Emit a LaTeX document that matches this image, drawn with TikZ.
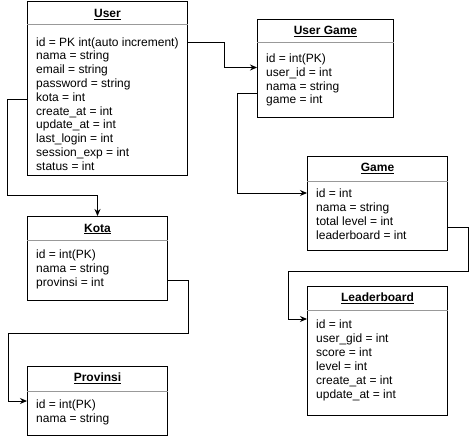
\documentclass[tikz,border=0pt]{standalone}
\usepackage{fontspec}
\setmainfont{Liberation Sans}
\usetikzlibrary{calc,arrows.meta}
\begin{document}
\begin{tikzpicture}[x=1pt,y=-1pt,
  box/.style={draw=black,line width=1pt,fill=white,anchor=north west,inner sep=0pt},
  ttl/.style={font=\fontsize{12}{14}\selectfont\bfseries,anchor=base,inner sep=0pt},
  fld/.style={font=\fontsize{12}{14}\selectfont,anchor=base west,inner sep=0pt},
  sepline/.style={draw={rgb,255:red,153;green,153;blue,153},line width=1pt},
  link/.style={draw=black,line width=1pt,-{Stealth[length=7pt,width=6pt]}}]
\fill[white] (0,0) rectangle (476,436);
\useasboundingbox (0,0) rectangle (476,436);

% User
\node[box,minimum width=160,minimum height=174] (user) at (27,1) {};
\node[ttl] (userT) at ($(user.north)+(0,16.5)$) {\underline{User}};
\draw[sepline] ($(user.north west)+(0,24)$) -- ($(user.north east)+(0,24)$);
\foreach \t [count=\i from 0] in {id = PK int(auto increment),nama = string,email = string,password = string,kota = int,create\_at = int,update\_at = int,last\_login = int,session\_exp = int,status = int}
  \node[fld] (user-\i) at ($(user.north west)+(9,45+\i*13.8)$) {\t};

% User Game
\node[box,minimum width=136,minimum height=98] (ug) at (257,19) {};
\node[ttl] (ugT) at ($(ug.north)+(0,15.5)$) {\underline{User Game}};
\draw[sepline] ($(ug.north west)+(0,24)$) -- ($(ug.north east)+(0,24)$);
\foreach \t [count=\i from 0] in {id = int(PK),user\_id = int,nama = string,game = int}
  \node[fld] (ug-\i) at ($(ug.north west)+(9,43.5+\i*13.8)$) {\t};

% Game
\node[box,minimum width=140,minimum height=94] (game) at (307,156) {};
\node[ttl] (gameT) at ($(game.north)+(0,15.5)$) {\underline{Game}};
\draw[sepline] ($(game.north west)+(0,25)$) -- ($(game.north east)+(0,25)$);
\foreach \t [count=\i from 0] in {id = int,nama = string,total level = int,leaderboard = int}
  \node[fld] (game-\i) at ($(game.north west)+(9,41.5+\i*14)$) {\t};

% Kota
\node[box,minimum width=140,minimum height=84] (kota) at (27,216) {};
\node[ttl] (kotaT) at ($(kota.north)+(0,16)$) {\underline{Kota}};
\draw[sepline] ($(kota.north west)+(0,24.5)$) -- ($(kota.north east)+(0,24.5)$);
\foreach \t [count=\i from 0] in {id = int(PK),nama = string,provinsi = int}
  \node[fld] (kota-\i) at ($(kota.north west)+(9,42.5+\i*13.8)$) {\t};

% Provinsi
\node[box,minimum width=140,minimum height=69] (prov) at (27,366) {};
\node[ttl] (provT) at ($(prov.north)+(0,15.5)$) {\underline{Provinsi}};
\draw[sepline] ($(prov.north west)+(0,25)$) -- ($(prov.north east)+(0,25)$);
\foreach \t [count=\i from 0] in {id = int(PK),nama = string}
  \node[fld] (prov-\i) at ($(prov.north west)+(9,42.3+\i*14)$) {\t};

% Leaderboard
\node[box,minimum width=140,minimum height=129] (lb) at (307,286) {};
\node[ttl] (lbT) at ($(lb.north)+(0,15.3)$) {\underline{Leaderboard}};
\draw[sepline] ($(lb.north west)+(0,24.5)$) -- ($(lb.north east)+(0,24.5)$);
\foreach \t [count=\i from 0] in {id = int,user\_gid = int,score = int,level = int,create\_at = int,update\_at = int}
  \node[fld] (lb-\i) at ($(lb.north west)+(9,42.3+\i*14)$) {\t};

% connectors
\draw[link] ($(user.north east)+(0,42)$) -- ++(36,0) |- ($(ug.north west)+(0,48.5)$);
\draw[link] ($(user.north west)+(0,98)$) -- ++(-20,0) -- ++(0,96) -| (kota.north);
\draw[link] ($(ug.north west)+(0,74)$) -- ++(-20,0) |- ($(game.north west)+(0,37)$);
\draw[link] ($(game.north east)+(0,71)$) -- ++(20,0) |- ++(-180,44) |- ($(lb.north west)+(0,33)$);
\draw[link] ($(kota.north east)+(0,64.5)$) -- ++(20,0) |- ++(-180,53) |- ($(prov.north west)+(0,35)$);
\end{tikzpicture}
\end{document}
